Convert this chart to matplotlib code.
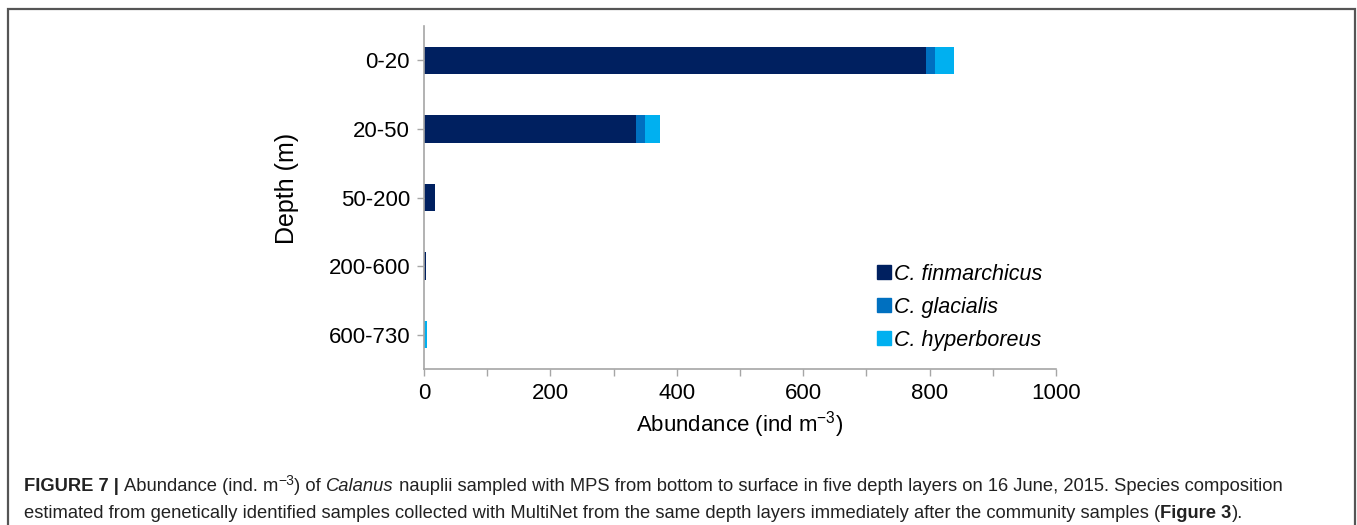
import matplotlib.pyplot as plt
from matplotlib.patches import Rectangle
from matplotlib.lines import Line2D
from matplotlib.ticker import MultipleLocator

plt.rcParams['font.family'] = ['Liberation Sans', 'DejaVu Sans']
plt.rcParams['mathtext.fontset'] = 'custom'
plt.rcParams['mathtext.rm'] = 'Liberation Sans'

# Nauplii abundance per depth layer (ind m-3), split by species
depths = ["0-20", "20-50", "50-200", "200-600", "600-730"]
finmarchicus = [795, 336, 18, 3, 0]
glacialis = [14, 13, 0, 0, 0]
hyperboreus = [29, 25, 0, 0, 5]

species = ["C. finmarchicus", "C. glacialis", "C. hyperboreus"]
colors = ["#002060", "#0070C0", "#00B0F0"]

fig = plt.figure(figsize=(13.57, 5.25), dpi=100)
ax = fig.add_axes([424 / 1357, 1 - 369 / 525, 632 / 1357, 343 / 525])

left = [0] * len(depths)
for vals, col in zip([finmarchicus, glacialis, hyperboreus], colors):
    ax.barh(range(len(depths)), vals, left=left, height=0.4, color=col)
    left = [a + b for a, b in zip(left, vals)]

ax.set_ylim(4.5, -0.5)
ax.set_xlim(0, 1000)
ax.set_yticks(range(len(depths)))
ax.set_yticklabels(depths)
ax.xaxis.set_major_locator(MultipleLocator(200))
ax.xaxis.set_minor_locator(MultipleLocator(100))

for s in ["top", "right"]:
    ax.spines[s].set_visible(False)
for s in ["left", "bottom"]:
    ax.spines[s].set_color("#a6a6a6")
    ax.spines[s].set_linewidth(1.2)
ax.set_axisbelow(False)
ax.tick_params(axis="both", which="both", color="#a6a6a6", length=5,
               width=1, labelsize=16, pad=5)
ax.tick_params(axis="x", which="major", pad=5)

ax.set_xlabel("Abundance (ind m$^{-3}$)", fontsize=16, labelpad=4)
ax.set_ylabel("Depth (m)", fontsize=18)
ax.yaxis.set_label_coords(-0.197, 0.525)

handles = [Line2D([], [], marker="s", ls="", color=c, markersize=10.5) for c in colors]
ax.legend(handles, species, loc="upper left", bbox_to_anchor=(862 / 1357, 1 - 255 / 525),
          bbox_transform=fig.transFigure, frameon=False, prop={"size": 15.5, "style": "italic"},
          handletextpad=-0.1, labelspacing=0.56, handlelength=1.2, borderaxespad=0)

# outer frame around chart and caption
fig.patches.append(Rectangle((8 / 1357, -0.1), 1347 / 1357, 1.1 - 9 / 525,
                             transform=fig.transFigure, fill=False,
                             edgecolor="#555555", lw=1.6))

# caption written as consecutive runs of differently styled text
cap_font = ["Liberation Sans Narrow", "Liberation Sans", "DejaVu Sans"]
renderer = fig.canvas.get_renderer()


def caption_line(runs, x0, y):
    x = x0
    for text, weight, style, size, dy in runs:
        t = fig.text(x, y + dy / 525, text, fontsize=size, fontweight=weight,
                     fontstyle=style, family=cap_font, color="#222222",
                     va="baseline", ha="left")
        bb = t.get_window_extent(renderer)
        x += bb.width / fig.bbox.width


fs = 13.2
line1 = [
    ("FIGURE 7 | ", "bold", "normal", fs, 0),
    ("Abundance (ind. m", "normal", "normal", fs, 0),
    ("\u22123", "normal", "normal", 10, 6),
    (") of ", "normal", "normal", fs, 0),
    ("Calanus", "normal", "italic", fs, 0),
    (" nauplii sampled with MPS from bottom to surface in five depth layers on 16 June, 2015. "
     "Species composition", "normal", "normal", fs, 0),
]
line2 = [
    ("estimated from genetically identified samples collected with MultiNet from the same "
     "depth layers immediately after the community samples (", "normal", "normal", fs, 0),
    ("Figure 3", "bold", "normal", fs, 0),
    (").", "normal", "normal", fs, 0),
]
caption_line(line1, 24 / 1357, 1 - 491 / 525)
caption_line(line2, 24 / 1357, 1 - 518 / 525)

fig.savefig("out.png", dpi=100)
